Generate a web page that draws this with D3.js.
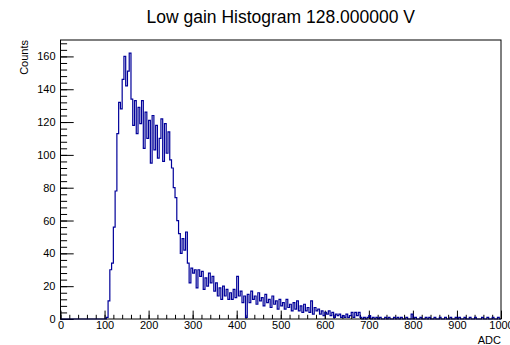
<!DOCTYPE html>
<html>
<head>
<meta charset="utf-8">
<script src="https://cdn.jsdelivr.net/npm/d3@7"></script>
<style>
    body { margin: 0; background: #fff; }
</style>
</head>
<body>
<script>
//histogram data - adc bins of width 4 from 0 to 1000
var binWidth = 4;
var binStart = 0;
var counts = [
    0,0,0,0,0,0,0,0,0,0,
    0,0,0,0,0,0,0,0,0,0,
    0,0,0,0,0,0,1,11,30,34,
    56,78,113,132,128,146,160,142,151,162,
    134,118,133,113,129,119,133,104,126,110,
    121,95,124,103,118,98,110,122,96,119,
    101,114,97,92,80,74,60,52,40,49,
    42,53,34,22,31,28,30,19,30,26,
    29,18,25,20,28,22,26,17,22,14,
    19,12,20,14,18,12,16,12,18,13,
    26,14,17,10,14,1,15,10,17,12,
    14,9,16,11,13,8,15,10,12,7,
    14,9,11,6,12,8,10,6,12,7,
    9,5,10,6,11,5,8,4,9,5,
    7,4,11,3,7,5,6,3,5,2,
    4,3,5,2,4,1,3,2,3,1,
    2,1,3,1,2,4,1,4,2,4,
    1,0,1,0,1,2,0,1,0,1,
    0,1,0,0,1,0,1,0,0,1,
    0,1,0,1,0,0,1,0,0,3,
    0,1,0,0,1,0,0,1,0,1,
    0,0,1,0,0,1,0,0,1,0,
    0,1,0,0,1,0,1,0,0,1,
    0,0,1,0,0,1,0,0,0,1,
    0,0,1,0,0,1,0,0,1,0
];
var xTicks = [0,100,200,300,400,500,600,700,800,900,1000];
var yTicks = [0,20,40,60,80,100,120,140,160];
var titleText = "Low gain Histogram 128.000000 V";
var xTitle = "ADC";
var yTitle = "Counts";

(function(){

    var width = 510,
        height = 345;
    var frame = {left: 60.5, right: 501, top: 40, bottom: 319};
    var font = "Liberation Sans, Arial, sans-serif";

    var svg = d3.select("body")
        .append("svg")
        .attr("width", width)
        .attr("height", height);

    //scales
    var x = d3.scaleLinear().domain([0, 1000]).range([frame.left, frame.right]);
    var y = d3.scaleLinear().domain([0, 170]).range([frame.bottom, frame.top]);

    //minor ticks every 20 adc / 4 counts
    var xMinor = d3.range(0, 1001, 20);
    var yMinor = d3.range(0, 169, 4);

    //y axis - ticks pointing inside, labels outside
    svg.append("g")
        .attr("transform", "translate(" + frame.left + ",0)")
        .call(d3.axisLeft(y).tickValues(yMinor).tickSize(-6.6).tickFormat(""))
        .call(function(g){ g.select(".domain").remove(); });
    svg.append("g")
        .attr("transform", "translate(" + frame.left + ",0)")
        .call(d3.axisLeft(y).tickValues(yTicks).tickSize(-13.2).tickPadding(5).tickFormat(d3.format("d")))
        .call(function(g){
            g.select(".domain").remove();
            g.selectAll("text").attr("font-size", 11).attr("font-family", font);
        });

    //x axis
    svg.append("g")
        .attr("transform", "translate(0," + frame.bottom + ")")
        .call(d3.axisBottom(x).tickValues(xMinor).tickSize(-4.2).tickFormat(""))
        .call(function(g){ g.select(".domain").remove(); });
    svg.append("g")
        .attr("transform", "translate(0," + frame.bottom + ")")
        .call(d3.axisBottom(x).tickValues(xTicks).tickSize(-8.4).tickPadding(2).tickFormat(d3.format("d")))
        .call(function(g){
            g.select(".domain").remove();
            g.selectAll("text").attr("font-size", 11).attr("font-family", font);
        });

    //histogram outline as steps
    var pts = counts.map(function(c, i){ return [binStart + i * binWidth, c]; });
    pts.push([binStart + counts.length * binWidth, counts[counts.length - 1]]);
    var line = d3.line()
        .x(function(d){ return x(d[0]); })
        .y(function(d){ return y(d[1]); })
        .curve(d3.curveStepAfter);
    svg.append("path")
        .datum(pts)
        .attr("d", line)
        .attr("fill", "none")
        .attr("stroke", "#000099")
        .attr("stroke-width", 1.2);

    //frame box
    svg.append("rect")
        .attr("x", frame.left)
        .attr("y", frame.top)
        .attr("width", frame.right - frame.left)
        .attr("height", frame.bottom - frame.top)
        .attr("fill", "none")
        .attr("stroke", "#000")
        .attr("stroke-width", 1);

    //title and axis titles
    svg.append("text")
        .attr("x", (frame.left + frame.right) / 2)
        .attr("y", 23)
        .attr("text-anchor", "middle")
        .attr("font-family", font)
        .attr("font-size", 17.5)
        .text(titleText);

    svg.append("text")
        .attr("x", frame.right)
        .attr("y", 344)
        .attr("text-anchor", "end")
        .attr("font-family", font)
        .attr("font-size", 11)
        .text(xTitle);

    svg.append("text")
        .attr("transform", "translate(28," + frame.top + ") rotate(-90)")
        .attr("text-anchor", "end")
        .attr("font-family", font)
        .attr("font-size", 11)
        .text(yTitle);

})();
</script>
</body>
</html>
